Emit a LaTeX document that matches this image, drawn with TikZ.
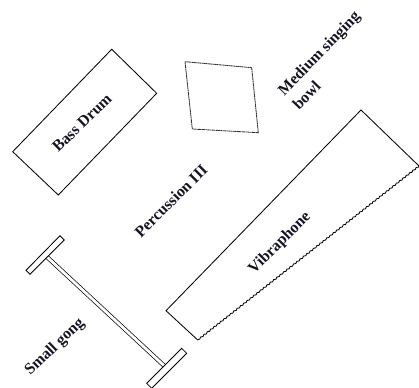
\documentclass[tikz,border=0pt]{standalone}
\usepackage{fontspec}
\setmainfont{Liberation Serif}
\usetikzlibrary{decorations.pathmorphing}
\definecolor{ink}{RGB}{20,20,35}
\definecolor{bowlgray}{RGB}{50,50,50}

\begin{document}
\begin{tikzpicture}[x=0.25mm,y=-0.25mm,line width=0.6pt,
  every node/.style={font=\fontsize{11.3}{14.5}\selectfont\bfseries,text=ink,inner sep=0pt}]
  \useasboundingbox (0,0) rectangle (419,388);
  % bass drum
  \draw (12.7,151.7) -- (111.7,49.3) -- (156.7,93.3) -- (58.3,195) -- cycle;
  \node[rotate=44] (drum) at (82,123) {Bass Drum};
  % singing bowl
  \draw[bowlgray,dash pattern=on 1.2pt off 0.3pt] (185,61.7) -- (251.7,67.7) -- (258.3,132.7) -- (192.3,129) -- cycle;
  \node[rotate=46,align=left] (bowl) at (326,60) {Medium singing\\bowl};
  % vibraphone
  \draw (197.7,340) -- (166,310.7) -- (361,110) -- (419,166);
  \draw[decorate,decoration={zigzag,segment length=3pt,amplitude=0.4pt}] (419,166) -- (197.7,340);
  \node[rotate=45] (vib) at (280,243) {Vibraphone};
  % label
  \node[rotate=45] (perc) at (171,201) {Percussion III};
  % small gong
  \coordinate (gt) at (47.2,257.2);
  \coordinate (gb) at (164.2,365.8);
  \draw[double,double distance=0.7mm,line width=0.5pt] (gt) -- (gb);
  \draw (26,270.3) -- (60,235.7) -- (64.3,240) -- (30,274.3) -- cycle;
  \draw (146.7,383.3) -- (181.7,348.3) -- (186.7,353.3) -- (151.7,388.3) -- cycle;
  \node[rotate=44] (gong) at (55,347) {Small gong};
\end{tikzpicture}
\end{document}
